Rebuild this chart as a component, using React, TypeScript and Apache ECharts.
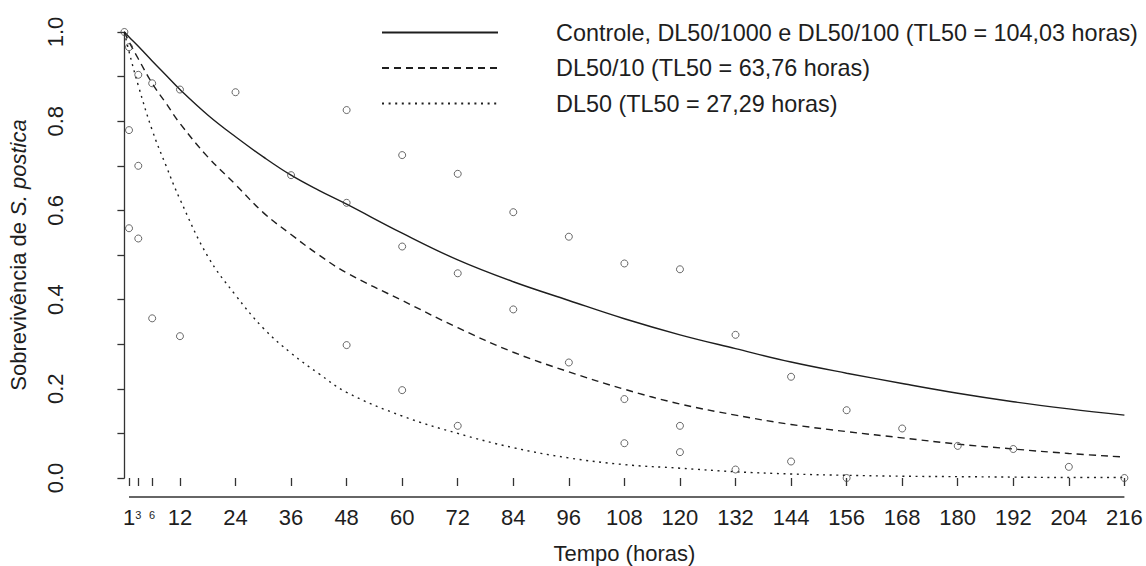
import React, { useEffect, useRef } from "react";
import * as echarts from "echarts";

// Fitted survival curves
const curveHours = [0, 1, 3, 6, 9, 12, 18, 24, 30, 36, 42, 48, 60, 72, 84, 96, 108, 120, 132, 144, 156, 168, 180, 192, 204, 216];
const controle = [1.0, 0.989, 0.968, 0.935, 0.903, 0.871, 0.814, 0.765, 0.72, 0.679, 0.645, 0.614, 0.549, 0.489, 0.44, 0.398, 0.357, 0.321, 0.29, 0.26, 0.235, 0.212, 0.19, 0.171, 0.155, 0.141];
const dl50_10 = [1.0, 0.978, 0.94, 0.885, 0.84, 0.795, 0.72, 0.658, 0.595, 0.546, 0.5, 0.46, 0.398, 0.337, 0.282, 0.238, 0.199, 0.166, 0.141, 0.12, 0.104, 0.09, 0.076, 0.065, 0.055, 0.047];
const dl50 = [1.0, 0.956, 0.88, 0.78, 0.7, 0.625, 0.497, 0.41, 0.336, 0.28, 0.234, 0.192, 0.139, 0.1, 0.068, 0.045, 0.03, 0.022, 0.014, 0.009, 0.006, 0.004, 0.003, 0.002, 0.001, 0.001];

// Observed survival
const obsHours = [0, 1, 1, 1, 3, 3, 3, 6, 6, 12, 12, 24, 36, 48, 48, 48, 60, 60, 60, 72, 72, 72, 84, 84, 96, 96, 108, 108, 108, 120, 120, 120, 132, 132, 144, 144, 156, 156, 168, 180, 192, 204, 216];
const obsSurv = [1.0, 0.966, 0.78, 0.56, 0.904, 0.70, 0.537, 0.885, 0.358, 0.871, 0.318, 0.865, 0.679, 0.825, 0.617, 0.298, 0.724, 0.519, 0.197, 0.682, 0.459, 0.117, 0.596, 0.378, 0.541, 0.259, 0.481, 0.177, 0.078, 0.468, 0.117, 0.058, 0.321, 0.019, 0.227, 0.037, 0.152, 0.0, 0.111, 0.072, 0.065, 0.025, 0.0];

const xTicks = [1, 3, 6, 12, 24, 36, 48, 60, 72, 84, 96, 108, 120, 132, 144, 156, 168, 180, 192, 204, 216];
const smallTicks = [3, 6];
const yTicks = [0, 0.1, 0.2, 0.3, 0.4, 0.5, 0.6, 0.7, 0.8, 0.9, 1.0];
const yLabels = [0, 0.2, 0.4, 0.6, 0.8, 1.0];

const seriesNames = [
  "Controle, DL50/1000 e DL50/100 (TL50 = 104,03 horas)",
  "DL50/10 (TL50 = 63,76 horas)",
  "DL50 (TL50 = 27,29 horas)",
];

const FONT = "'Liberation Sans', Arial, Helvetica, sans-serif";
const INK = "#1e1e1e";
const AXIS = "#333";

export default function App() {
  const ref = useRef<HTMLDivElement>(null);

  useEffect(() => {
    if (!ref.current) return;
    const chart = echarts.init(ref.current, undefined, { renderer: "svg" });
    const xOffset = 19;
    const lineSeries = (name: string, values: number[], type: any) => ({
      name,
      type: "line",
      data: curveHours.map((h, i) => [h, values[i]]),
      showSymbol: false,
      symbol: "none",
      smooth: 0.4,
      lineStyle: { color: INK, width: 1.4, type },
      itemStyle: { color: INK },
      z: 2,
    });
    chart.setOption({
      animation: false,
      backgroundColor: "#fff",
      textStyle: { fontFamily: FONT },
      grid: { left: 124.4, right: 21.6, top: 32, bottom: 88 },
      xAxis: {
        type: "value",
        min: 0,
        max: 216,
        offset: xOffset,
        axisLine: { show: false },
        splitLine: { show: false },
        axisTick: {
          show: true,
          customValues: xTicks,
          length: 8,
          lineStyle: { color: AXIS, width: 1.3 },
        },
        axisLabel: {
          customValues: xTicks,
          margin: 9,
          fontSize: 22,
          color: INK,
          fontFamily: FONT,
          formatter: (v: number) => (smallTicks.includes(v) ? `{s|${v}}` : `${v}`),
          rich: { s: { fontSize: 11, color: INK, fontFamily: FONT, padding: [3, 0, 0, 0] } },
        },
      },
      yAxis: {
        type: "value",
        min: 0,
        max: 1,
        offset: 41.4,
        axisLine: { show: true, lineStyle: { color: AXIS, width: 1.3 } },
        splitLine: { show: false },
        axisTick: {
          show: true,
          customValues: yTicks,
          length: 7,
          lineStyle: { color: AXIS, width: 1.3 },
        },
        axisLabel: {
          customValues: yLabels,
          rotate: 90,
          margin: 17,
          fontSize: 22,
          color: INK,
          fontFamily: FONT,
          formatter: (v: number) => v.toFixed(1),
        },
      },
      legend: {
        data: seriesNames,
        orient: "vertical",
        left: 381,
        top: 21,
        padding: 0,
        itemWidth: 116,
        itemHeight: 14,
        itemGap: 12.5,
        selectedMode: false,
        itemStyle: { opacity: 0 },
        textStyle: { fontSize: 23.4, color: INK, fontFamily: FONT, lineHeight: 22, padding: [0, 0, 0, 53] },
      },
      series: [
        lineSeries(seriesNames[0], controle, "solid"),
        lineSeries(seriesNames[1], dl50_10, [7, 5]),
        lineSeries(seriesNames[2], dl50, [2, 4.6]),
        {
          name: "Observado",
          type: "scatter",
          data: obsHours.map((h, i) => [h, obsSurv[i]]),
          symbol: "circle",
          symbolSize: 7,
          itemStyle: { color: "rgba(0,0,0,0)", borderColor: "#444", borderWidth: 1 },
          z: 3,
        },
      ],
    });

    const xStart = chart.convertToPixel({ xAxisIndex: 0 }, xTicks[0]) as number;
    const xEnd = chart.convertToPixel({ xAxisIndex: 0 }, xTicks[xTicks.length - 1]) as number;
    const yBase = (chart.convertToPixel({ yAxisIndex: 0 }, 0) as number) + xOffset;
    const yMid = ((chart.convertToPixel({ yAxisIndex: 0 }, 0) as number) + (chart.convertToPixel({ yAxisIndex: 0 }, 1) as number)) / 2;
    const plotMid = ((chart.convertToPixel({ xAxisIndex: 0 }, 0) as number) + xEnd) / 2;

    chart.setOption({
      graphic: [
        {
          type: "line",
          shape: { x1: xStart, y1: yBase, x2: xEnd, y2: yBase },
          style: { stroke: AXIS, lineWidth: 1.3 },
          silent: true,
        },
        {
          type: "text",
          x: plotMid,
          y: 553,
          style: {
            text: "Tempo (horas)",
            font: `22px ${FONT}`,
            fill: INK,
            align: "center",
            verticalAlign: "middle",
          },
        },
        {
          type: "text",
          x: 18,
          y: yMid,
          rotation: Math.PI / 2,
          style: {
            text: "{n|Sobrevivência de }{i|S. postica}",
            align: "center",
            verticalAlign: "middle",
            fill: INK,
            rich: {
              n: { fontSize: 22, fontFamily: FONT, fill: INK },
              i: { fontSize: 22, fontFamily: FONT, fontStyle: "italic", fill: INK },
            },
          },
        },
      ],
    });

    return () => chart.dispose();
  }, []);

  return (
    <div
      ref={ref}
      style={{ position: "fixed", left: 0, top: 0, width: 1146, height: 566, background: "#fff" }}
    />
  );
}
